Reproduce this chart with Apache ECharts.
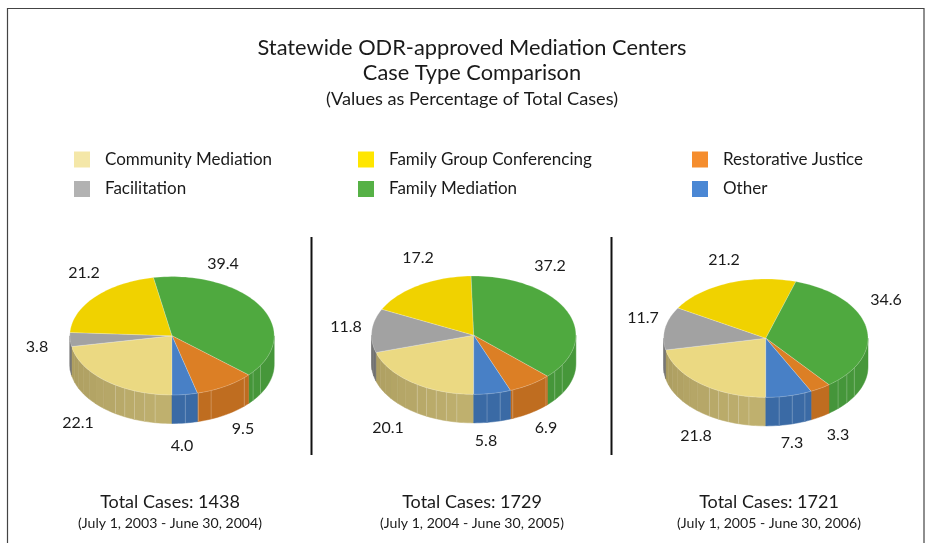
<!DOCTYPE html>
<html>
<head>
<meta charset="utf-8">
<style>
  html, body { margin: 0; padding: 0; background: #fff; }
  #main { width: 927px; height: 543px; }
</style>
</head>
<body>
<div id="main"></div>
<script src="https://cdn.jsdelivr.net/npm/echarts@6/dist/echarts.min.js"></script>
<script>
// values, percent of total cases, one entry per period
const categories = ["Community Mediation", "Facilitation", "Family Group Conferencing", "Family Mediation", "Restorative Justice", "Other"];
const communityMediation = [22.1, 20.1, 21.8];
const facilitation = [3.8, 11.8, 11.7];
const familyGroup = [21.2, 17.2, 21.2];
const familyMediation = [39.4, 37.2, 34.6];
const restorativeJustice = [9.5, 6.9, 3.3];
const other = [4.0, 5.8, 7.3];
const totalCases = [1438, 1729, 1721];
const periods = ["(July 1, 2003 - June 30, 2004)", "(July 1, 2004 - June 30, 2005)", "(July 1, 2005 - June 30, 2006)"];

const seriesValues = [communityMediation, facilitation, familyGroup, familyMediation, restorativeJustice, other];

// look
const FONT = "Lato";
const legendColors = ["#f4e7a8", "#b2b2b2", "#ffe600", "#56b146", "#f58d2d", "#4a87d4"];
const topColors = ["#ebd982", "#a2a2a2", "#f0d200", "#4fa93f", "#dc7f25", "#4880c6"];
const wallDark = ["#a99a5e", "#6f6f6f", "#a89300", "#47983a", "#bd6c20", "#3a6ba6"];
const wallLight = ["#c0b16f", "#808080", "#bca500", "#43933a", "#c06d20", "#3a6aa5"];
const pieCenters = [[172, 335.8], [473.7, 335.2], [765.8, 338.2]];
const RX = 102.2, RY = 59.2, DEPTH = 28.5;
const legendLeft = [74, 358, 692];
const totalsX = [170, 472, 769];
// hand placed number labels, same order as seriesValues
const labelSpots = [
  [[78, 423], [37, 347], [84, 273], [223, 264], [243, 429], [182, 446]],
  [[388, 428], [346, 327], [418, 258], [550, 266], [546, 428], [486, 441]],
  [[696, 436], [643, 318], [724, 260], [886, 300], [838, 435], [792, 443]]
];

function pieSum(p) {
  return seriesValues.reduce((s, v) => s + v[p], 0);
}
function shareBefore(p, c) {
  let s = 0;
  for (let i = 0; i < c; i++) s += seriesValues[i][p];
  return s / pieSum(p);
}
// angle in degrees, clockwise from the top of the ellipse
function pt(center, a, dy) {
  const r = a * Math.PI / 180;
  return [center[0] + RX * Math.sin(r), center[1] - RY * Math.cos(r) + (dy || 0)];
}
function arcPoints(center, a0, a1, dy) {
  const pts = [];
  const n = Math.max(2, Math.ceil((a1 - a0) / 2));
  for (let i = 0; i <= n; i++) pts.push(pt(center, a0 + (a1 - a0) * i / n, dy));
  return pts;
}
function mix(c1, c2, t) {
  const h = (c, i) => parseInt(c.substr(1 + i * 2, 2), 16);
  const out = [0, 1, 2].map((i) => Math.round(h(c1, i) + (h(c2, i) - h(c1, i)) * t));
  return "rgb(" + out.join(",") + ")";
}
// wall seams, only where the original shows them on the front of the rim
function facetEdges() {
  const edges = [];
  for (let a = 189.5; a < 216; a += 6) edges.push(a);
  [480, 487.5, 495, 517.5, 525, 532.5].forEach((a) => edges.push(a));
  return edges;
}
const seams = facetEdges();

function wallParts(center, c, from, to, children) {
  if (to <= from) return;
  const cuts = [from];
  seams.forEach((s) => { if (s > from && s < to) cuts.push(s); });
  for (let a = 222; a < 270; a += 6) if (a > from && a < to) cuts.push(a);
  cuts.push(to);
  cuts.sort((x, y) => x - y);
  for (let i = 0; i < cuts.length - 1; i++) {
    const a0 = cuts[i], a1 = cuts[i + 1];
    const mid = (a0 + a1) / 2;
    const off = mid < 360 ? (mid - 180) / 90 : (540 - mid) / 90;
    const col = mix(wallLight[c], wallDark[c], off);
    const upper = arcPoints(center, a0, a1, 0);
    const lower = arcPoints(center, a0, a1, DEPTH).reverse();
    children.push({
      type: "polygon",
      shape: { points: upper.concat(lower) },
      style: { fill: col, stroke: col, lineWidth: 0.5 }
    });
  }
  cuts.slice(1, -1).forEach((a) => {
    if (seams.indexOf(a) < 0) return;
    const p0 = pt(center, a, 0), p1 = pt(center, a, DEPTH);
    children.push({
      type: "line",
      shape: { x1: p0[0], y1: p0[1], x2: p1[0], y2: p1[1] },
      style: { stroke: "rgba(255,255,255,0.28)", lineWidth: 0.8 }
    });
  });
}

function renderSlice(params, api) {
  const p = api.value(0);
  const c = params.seriesIndex;
  const center = pieCenters[p];
  const a0 = 180 + api.value(2) * 360;
  const a1 = a0 + api.value(1) / pieSum(p) * 360;
  const children = [];

  // the front half of the rim shows: 180-270 and 450-540
  wallParts(center, c, Math.max(a0, 180), Math.min(a1, 270), children);
  wallParts(center, c, Math.max(a0, 450), Math.min(a1, 540), children);

  children.push({
    type: "polygon",
    shape: { points: [center].concat(arcPoints(center, a0, a1, 0)) },
    style: { fill: topColors[c], stroke: "rgba(255,255,255,0.35)", lineWidth: 0.6 }
  });

  const spot = labelSpots[p][c];
  children.push({
    type: "text",
    style: {
      x: spot[0], y: spot[1],
      text: api.value(1).toFixed(1),
      fill: "#1a1a1a",
      font: "16px " + FONT,
      align: "center",
      verticalAlign: "middle"
    }
  });
  return { type: "group", children: children };
}

const series = categories.map((name, c) => ({
  name: name,
  type: "custom",
  coordinateSystem: "none",
  renderItem: renderSlice,
  itemStyle: { color: legendColors[c] },
  data: seriesValues[c].map((v, p) => [p, v, shareBefore(p, c)])
}));

const titles = [
  { text: "Statewide ODR-approved Mediation Centers", y: 37, size: 21.8 },
  { text: "Case Type Comparison", y: 62, size: 21.8 },
  { text: "(Values as Percentage of Total Cases)", y: 90, size: 18.2 }
].map((t) => ({
  text: t.text, left: 472, top: t.y, textAlign: "center", padding: 0,
  textStyle: { fontFamily: FONT, fontSize: t.size, fontWeight: "normal", color: "#1a1a1a" }
}));
totalCases.forEach((n, i) => {
  titles.push({
    text: "Total Cases: " + n, left: totalsX[i], top: 493, textAlign: "center", padding: 0,
    textStyle: { fontFamily: FONT, fontSize: 18, fontWeight: "normal", color: "#1a1a1a" }
  });
  titles.push({
    text: periods[i], left: totalsX[i], top: 516, textAlign: "center", padding: 0,
    textStyle: { fontFamily: FONT, fontSize: 14.1, fontWeight: "normal", color: "#1a1a1a" }
  });
});

const legends = legendLeft.map((left, i) => ({
  left: left,
  top: 151,
  orient: "vertical",
  padding: 0,
  icon: "rect",
  itemWidth: 16,
  itemHeight: 16,
  itemGap: 12.5,
  selectedMode: false,
  data: [categories[i * 2], categories[i * 2 + 1]],
  textStyle: { fontFamily: FONT, fontSize: 17, color: "#1a1a1a", padding: [0, 0, 0, 10] }
}));

const chart = echarts.init(document.getElementById("main"));
chart.setOption({
  animation: false,
  backgroundColor: "#fff",
  title: titles,
  legend: legends,
  tooltip: { show: false },
  graphic: [
    { type: "polyline", silent: true, shape: { points: [[7.5, 543], [7.5, 8.5], [924, 8.5], [924, 543]] }, style: { fill: null, stroke: "#444", lineWidth: 1.2 } },
    { type: "line", silent: true, shape: { x1: 311.5, y1: 237, x2: 311.5, y2: 455 }, style: { stroke: "#111", lineWidth: 2 } },
    { type: "line", silent: true, shape: { x1: 611.5, y1: 237, x2: 611.5, y2: 455 }, style: { stroke: "#111", lineWidth: 2 } }
  ],
  series: series
});
</script>
</body>
</html>
